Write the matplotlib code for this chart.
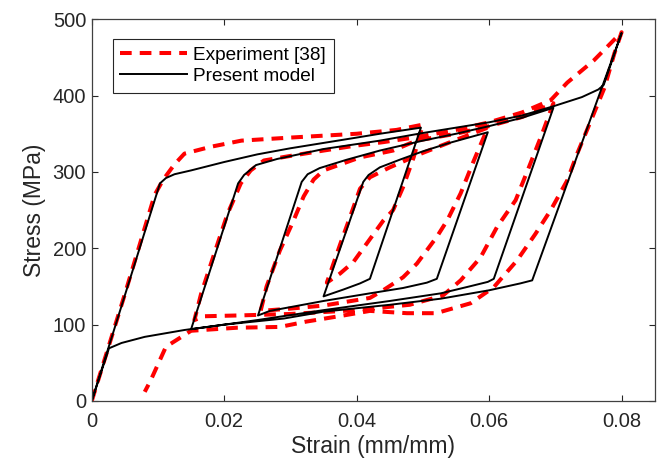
"""
Napon-deformacija petlje: eksperiment i model.
"""

import numpy as np
import matplotlib.pyplot as plt

plt.rcParams['font.family'] = ['Liberation Sans', 'DejaVu Sans']

# --- model: grane petlji redom (opterecenje / rasterecenje) ---
model_load_1_strain = [0, 0.0103, 0.0112, 0.0125, 0.015, 0.02, 0.025, 0.03, 0.035, 0.04, 0.0435, 0.0497]
model_load_1_stress = [0, 285, 292, 297, 302, 313, 323, 331, 338, 345, 350, 358]
model_unload_1_strain = [0.0497, 0.042, 0.0405, 0.038, 0.035]
model_unload_1_stress = [358, 160, 154, 146, 137]
model_reload_2_strain = [0.035, 0.041, 0.0418, 0.0435, 0.0465, 0.05, 0.054, 0.0598]
model_reload_2_stress = [137, 287, 296, 306, 316, 327, 338, 352]
model_unload_2_strain = [0.0598, 0.0521, 0.0506, 0.047, 0.042, 0.035, 0.0269, 0.0251]
model_unload_2_stress = [352, 160, 155, 148, 141, 131, 118, 112]
model_reload_3_strain = [0.0251, 0.0317, 0.0326, 0.0344, 0.0385, 0.0435, 0.05, 0.055, 0.06, 0.065, 0.0697]
model_reload_3_stress = [112, 287, 297, 305, 316, 328, 341, 350, 360, 371, 384]
model_unload_3_strain = [0.0697, 0.0607, 0.0598, 0.057, 0.0527, 0.045, 0.035, 0.025, 0.02, 0.015]
model_unload_3_stress = [384, 160, 156, 150, 141, 131, 119, 106, 100, 94]
model_reload_4_strain = [0.015, 0.0221, 0.023, 0.0248, 0.028, 0.035, 0.0435, 0.05, 0.055, 0.06,
                         0.065, 0.0697, 0.074, 0.0765, 0.0773, 0.08]
model_reload_4_stress = [94, 285, 296, 309, 317, 330, 341, 351, 358, 365, 374, 386, 398, 408, 414, 482]
model_unload_4_strain = [0.08, 0.0665, 0.0647, 0.06, 0.0527, 0.045, 0.035, 0.029, 0.02, 0.014,
                         0.008, 0.0045, 0.0026, 0]
model_unload_4_stress = [482, 158, 154, 145, 134, 126, 117, 108, 100, 93, 84, 76, 69, 0]

# --- eksperiment [38] ---
exp_load_1_strain = [0, 0.005, 0.0095, 0.0108, 0.0125, 0.014, 0.018, 0.0226, 0.03, 0.04, 0.046, 0.05]
exp_load_1_stress = [0, 140, 270, 290, 310, 324, 333, 341, 345, 350, 355, 362]
exp_unload_1_strain = [0.05, 0.0486, 0.047, 0.0455, 0.044, 0.042, 0.0395, 0.0375, 0.0355]
exp_unload_1_stress = [362, 319, 280, 250, 236, 212, 182, 167, 155]
exp_reload_2_strain = [0.0355, 0.0375, 0.039, 0.0405, 0.042, 0.045, 0.05, 0.055, 0.0598]
exp_reload_2_stress = [155, 205, 241, 278, 293, 306, 325, 342, 358]
exp_unload_2_strain = [0.0598, 0.0577, 0.0557, 0.0537, 0.0521, 0.0491, 0.047, 0.044, 0.042, 0.035, 0.03, 0.0255]
exp_unload_2_stress = [358, 315, 272, 237, 215, 180, 162, 145, 135, 125, 121, 118]
exp_reload_3_strain = [0.0255, 0.0264, 0.0284, 0.0304, 0.032, 0.0335, 0.035, 0.0405, 0.0455, 0.049,
                       0.055, 0.06, 0.065, 0.0697]
exp_reload_3_stress = [118, 150, 197, 235, 268, 290, 302, 319, 328, 341, 350, 360, 372, 390]
exp_unload_3_strain = [0.0697, 0.068, 0.066, 0.064, 0.0612, 0.0587, 0.0557, 0.053, 0.048, 0.04,
                       0.03, 0.022, 0.017, 0.0155]
exp_unload_3_stress = [390, 350, 306, 263, 228, 188, 158, 138, 126, 119, 114, 112, 111, 106]
exp_reload_4_strain = [0.0155, 0.0165, 0.0185, 0.0205, 0.0225, 0.024, 0.026, 0.03, 0.035, 0.0395,
                       0.044, 0.0486, 0.055, 0.06, 0.065, 0.0693, 0.0718, 0.0758, 0.08]
exp_reload_4_stress = [106, 140, 193, 245, 285, 302, 315, 321, 328, 334, 339, 345, 355, 365, 378,
                       394, 417, 446, 483]
exp_unload_4_strain = [0.08, 0.0789, 0.0774, 0.0755, 0.0733, 0.0718, 0.0693, 0.067, 0.0642, 0.0607,
                       0.0572, 0.052, 0.0476, 0.042, 0.038, 0.0324, 0.0284, 0.022, 0.015, 0.0112,
                       0.0089, 0.008]
exp_unload_4_stress = [483, 455, 410, 370, 324, 289, 250, 219, 184, 149, 128, 115, 115, 118, 112,
                       104, 97, 96, 92, 71, 27, 12]

x_ticks = [0, 0.02, 0.04, 0.06, 0.08]
x_tick_labels = ['0', '0.02', '0.04', '0.06', '0.08']
y_ticks = [0, 100, 200, 300, 400, 500]


def join(*branches):
    return np.concatenate([np.asarray(b, dtype=float) for b in branches])


exp_strain = join(exp_load_1_strain, exp_unload_1_strain, exp_reload_2_strain, exp_unload_2_strain,
                  exp_reload_3_strain, exp_unload_3_strain, exp_reload_4_strain, exp_unload_4_strain)
exp_stress = join(exp_load_1_stress, exp_unload_1_stress, exp_reload_2_stress, exp_unload_2_stress,
                  exp_reload_3_stress, exp_unload_3_stress, exp_reload_4_stress, exp_unload_4_stress)
model_strain = join(model_load_1_strain, model_unload_1_strain, model_reload_2_strain,
                    model_unload_2_strain, model_reload_3_strain, model_unload_3_strain,
                    model_reload_4_strain, model_unload_4_strain)
model_stress = join(model_load_1_stress, model_unload_1_stress, model_reload_2_stress,
                    model_unload_2_stress, model_reload_3_stress, model_unload_3_stress,
                    model_reload_4_stress, model_unload_4_stress)

fig = plt.figure(figsize=(6.6, 4.69), dpi=100)
ax = fig.add_axes([0.139, 0.145, 0.853, 0.814])

exp_line, = ax.plot(exp_strain, exp_stress, color='#ff0000', lw=2.9, label='Experiment [38]')
exp_line.set_dashes([2.9, 2.0])
ax.plot(model_strain, model_stress, color='black', lw=1.4, label='Present model')

ax.set_xlim(0, 0.085)
ax.set_ylim(0, 500)
ax.set_xticks(x_ticks)
ax.set_xticklabels(x_tick_labels)
ax.set_yticks(y_ticks)
ax.tick_params(direction='in', length=4.3, width=0.8, labelsize=14.5, colors='#262626',
               top=True, right=True)
ax.tick_params(axis='x', pad=8)
ax.tick_params(axis='y', pad=4)
for s in ax.spines.values():
    s.set_color('#404040')
    s.set_linewidth(0.9)

ax.set_xlabel('Strain (mm/mm)', fontsize=16.5, color='#262626', labelpad=2.5)
ax.set_ylabel('Stress (MPa)', fontsize=16.5, color='#262626', labelpad=5)

leg = ax.legend(loc='upper left', bbox_to_anchor=(0.037, 0.948), fontsize=13.7,
                handlelength=3.5, handletextpad=0.35, borderpad=0.4, labelspacing=0.2,
                borderaxespad=0, fancybox=False, framealpha=1, edgecolor='#262626')
leg.get_frame().set_linewidth(0.8)

plt.savefig('out.png', dpi=100)
plt.close()
